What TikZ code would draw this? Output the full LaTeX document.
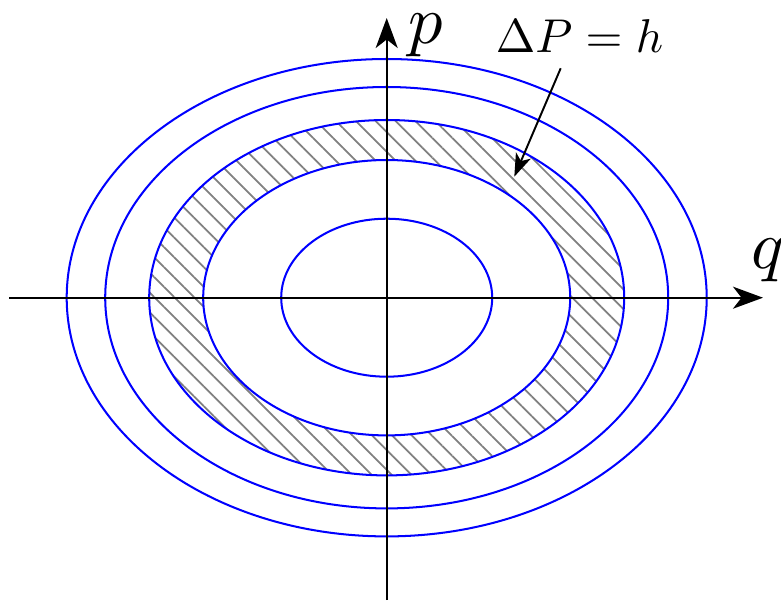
\documentclass[tikz,border=0pt]{standalone}
\usetikzlibrary{arrows.meta,patterns.meta}

\begin{document}
\begin{tikzpicture}[x=0.02cm, y=0.02cm,
		level/.style={blue, line width=1.15pt},
		axis/.style={line width=1.3pt, -{Stealth[length=0.6cm, width=0.44cm, inset=0.17cm]}},
		hatch/.style={pattern={Lines[angle=-45, distance=8pt, line width=1pt]}, pattern color=gray},
		bigmath/.style={inner sep=0pt, anchor=base west, scale=3.9}]
		\useasboundingbox (0, 0) rectangle (781, 600);
		\coordinate (O) at (386.7, 302.3);

		% band between two level sets
		\fill[hatch, even odd rule] (O) ellipse [x radius=237.5, y radius=177.7] (O) ellipse [x radius=183.5, y radius=137.7];

		\draw[level] (O) ellipse [x radius=105.5, y radius=79];
		\draw[level] (O) ellipse [x radius=183.5, y radius=137.7];
		\draw[level] (O) ellipse [x radius=237.5, y radius=177.7];
		\draw[level] (O) ellipse [x radius=281.5, y radius=210.7];
		\draw[level] (O) ellipse [x radius=320, y radius=238.7];

		% axes
		\coordinate (qL) at (9, 302.3);
		\coordinate (qR) at (763, 302.3);
		\coordinate (pB) at (386.7, 0);
		\coordinate (pT) at (386.7, 582);
		\draw[axis] (qL) -- (qR);
		\draw[axis] (pB) -- (pT);
		\node[bigmath] (p) at (407, 557) {$p$};
		\node[bigmath] (q) at (750, 332) {$q$};

		\node[inner sep=0pt, anchor=base west, scale=2.7] (dP) at (495, 548) {$\Delta P = h$};
		\coordinate (tail) at (560.7, 531.7);
		\coordinate (tip) at (514.3, 423.3);
		\draw[line width=1.1pt, -{Stealth[length=0.46cm, width=0.32cm, inset=0.12cm]}] (tail) -- (tip);
	\end{tikzpicture}
\end{document}
